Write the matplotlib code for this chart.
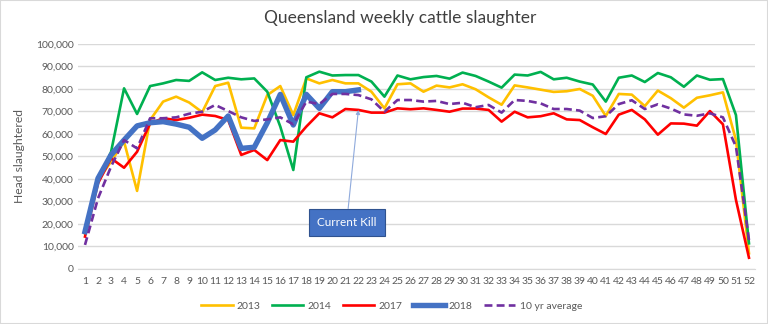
import matplotlib.pyplot as plt
from matplotlib.patches import Rectangle
from matplotlib.ticker import FuncFormatter

# ─────────────────────────────────
# DATA (head slaughtered per week)
# ─────────────────────────────────
weeks = list(range(1, 53))

y2013 = [15800, 39500, 47700, 56600, 34700, 66200, 74400, 76600, 74000, 69700,
         81300, 82800, 62800, 62500, 77300, 81300, 68400, 84700, 82500, 84000,
         82500, 82500, 78800, 71400, 82100, 82500, 78800, 81500, 80700, 82100,
         79900, 76300, 73000, 81600, 80700, 79700, 78700, 79000, 80000, 77000,
         68000, 77800, 77500, 72400, 79300, 75900, 71700, 76100, 77200, 78500,
         57300, 7000]

y2014 = [16000, 39000, 52000, 80300, 68900, 81300, 82500, 84000, 83600, 87400,
         84000, 85000, 84300, 84700, 78800, 63300, 44000, 85200, 87700, 86000,
         86200, 86200, 83300, 76600, 86000, 84300, 85300, 85800, 84600, 87300,
         85800, 83300, 80600, 86400, 86000, 87600, 84300, 85000, 83300, 82000,
         74400, 85000, 86000, 83100, 87100, 85200, 81000, 86000, 84100, 84400,
         68400, 11400]

y2017 = [14400, 38100, 49200, 45000, 52100, 64700, 67000, 66200, 67200, 68600,
         68000, 66200, 50700, 52900, 48400, 57300, 56600, 63300, 69200, 67400,
         71100, 70700, 69500, 69500, 71400, 71000, 71400, 70700, 69900, 71300,
         71300, 70700, 65500, 69900, 67400, 67900, 69200, 66500, 66200, 63000,
         60000, 68600, 70700, 66500, 59700, 64700, 64600, 63700, 70200, 64300,
         30700, 5000]

y2018 = [16600, 40300, 50700, 57300, 63600, 65000, 65500, 64400, 63000, 58100,
         61800, 68000, 53600, 54100, 65000, 77600, 64000, 77600, 71400, 78800,
         78800, 79600]

avg10 = [10700, 31400, 45500, 57300, 53600, 67000, 67000, 67400, 69000, 69900,
         72900, 70200, 67400, 65800, 66500, 67400, 64300, 74400, 73300, 77800,
         77800, 77300, 75400, 69900, 75100, 75100, 74400, 74700, 73300, 73900,
         71900, 72900, 69500, 75100, 74700, 73600, 71100, 71100, 70400, 67100,
         67900, 73300, 75000, 71100, 73200, 71300, 68700, 68100, 69200, 67400,
         54400, 12900]

series = [
    ("2013", y2013, "#FFC000", 1.9, "-"),
    ("2014", y2014, "#00B050", 1.9, "-"),
    ("2017", y2017, "#FF0000", 1.9, "-"),
    ("2018", y2018, "#4472C4", 3.9, "-"),
    ("10 yr average", avg10, "#7030A0", 1.9, (0, (3, 1.6))),
]

# ─────────────────────────────────
# PLOT
# ─────────────────────────────────
plt.rcParams['font.family'] = ['Lato', 'DejaVu Sans']
fig = plt.figure(figsize=(7.68, 3.24), dpi=100)
ax = fig.add_axes([0.1022, 0.1698, 0.8815, 0.6944])

for name, vals, col, lw, ls in series:
    ax.plot(weeks[:len(vals)], vals, color=col, linewidth=lw,
            linestyle=ls, label=name, solid_joinstyle='round')

ax.set_xlim(0.5, 52.5)
ax.set_ylim(0, 100000)
ax.set_xticks(weeks)
ax.set_yticks(range(0, 100001, 10000))
ax.yaxis.set_major_formatter(FuncFormatter(lambda v, p: f"{int(v):,}"))
ax.tick_params(axis='both', length=0, labelsize=7.5, colors='#595959')
ax.tick_params(axis='x', pad=6)
ax.grid(axis='y', color='#D9D9D9', linewidth=1)
ax.set_axisbelow(True)
for s in ['top', 'right', 'left']:
    ax.spines[s].set_visible(False)
ax.spines['bottom'].set_color('#D9D9D9')

ax.set_ylabel('Head slaughtered', fontsize=8.7, color='#595959', labelpad=8)
fig.text(0.521, 0.945, 'Queensland weekly cattle slaughter',
         ha='center', va='center', fontsize=12.5, color='#404040')

# Current kill callout
ax.annotate('Current Kill', xy=(22, 70700), xytext=(21.1, 20600),
            ha='center', va='center', fontsize=8.5, color='white',
            bbox=dict(boxstyle='square,pad=0.7', fc='#4472C4', ec='#2F528F', lw=0.8),
            arrowprops=dict(arrowstyle='-|>', color='#8FAADC', lw=0.8,
                            mutation_scale=6, shrinkA=0, shrinkB=0))

fig.legend(loc='center', bbox_to_anchor=(0.51, 0.056), ncol=5,
           frameon=False, fontsize=7.5, labelcolor='#595959',
           handlelength=3.0, columnspacing=1.1, handletextpad=0.4)

fig.patches.append(Rectangle((0, 0), 1, 1, transform=fig.transFigure,
                             fill=False, ec='#D9D9D9', lw=1.5))

plt.savefig('out.png', dpi=100)
